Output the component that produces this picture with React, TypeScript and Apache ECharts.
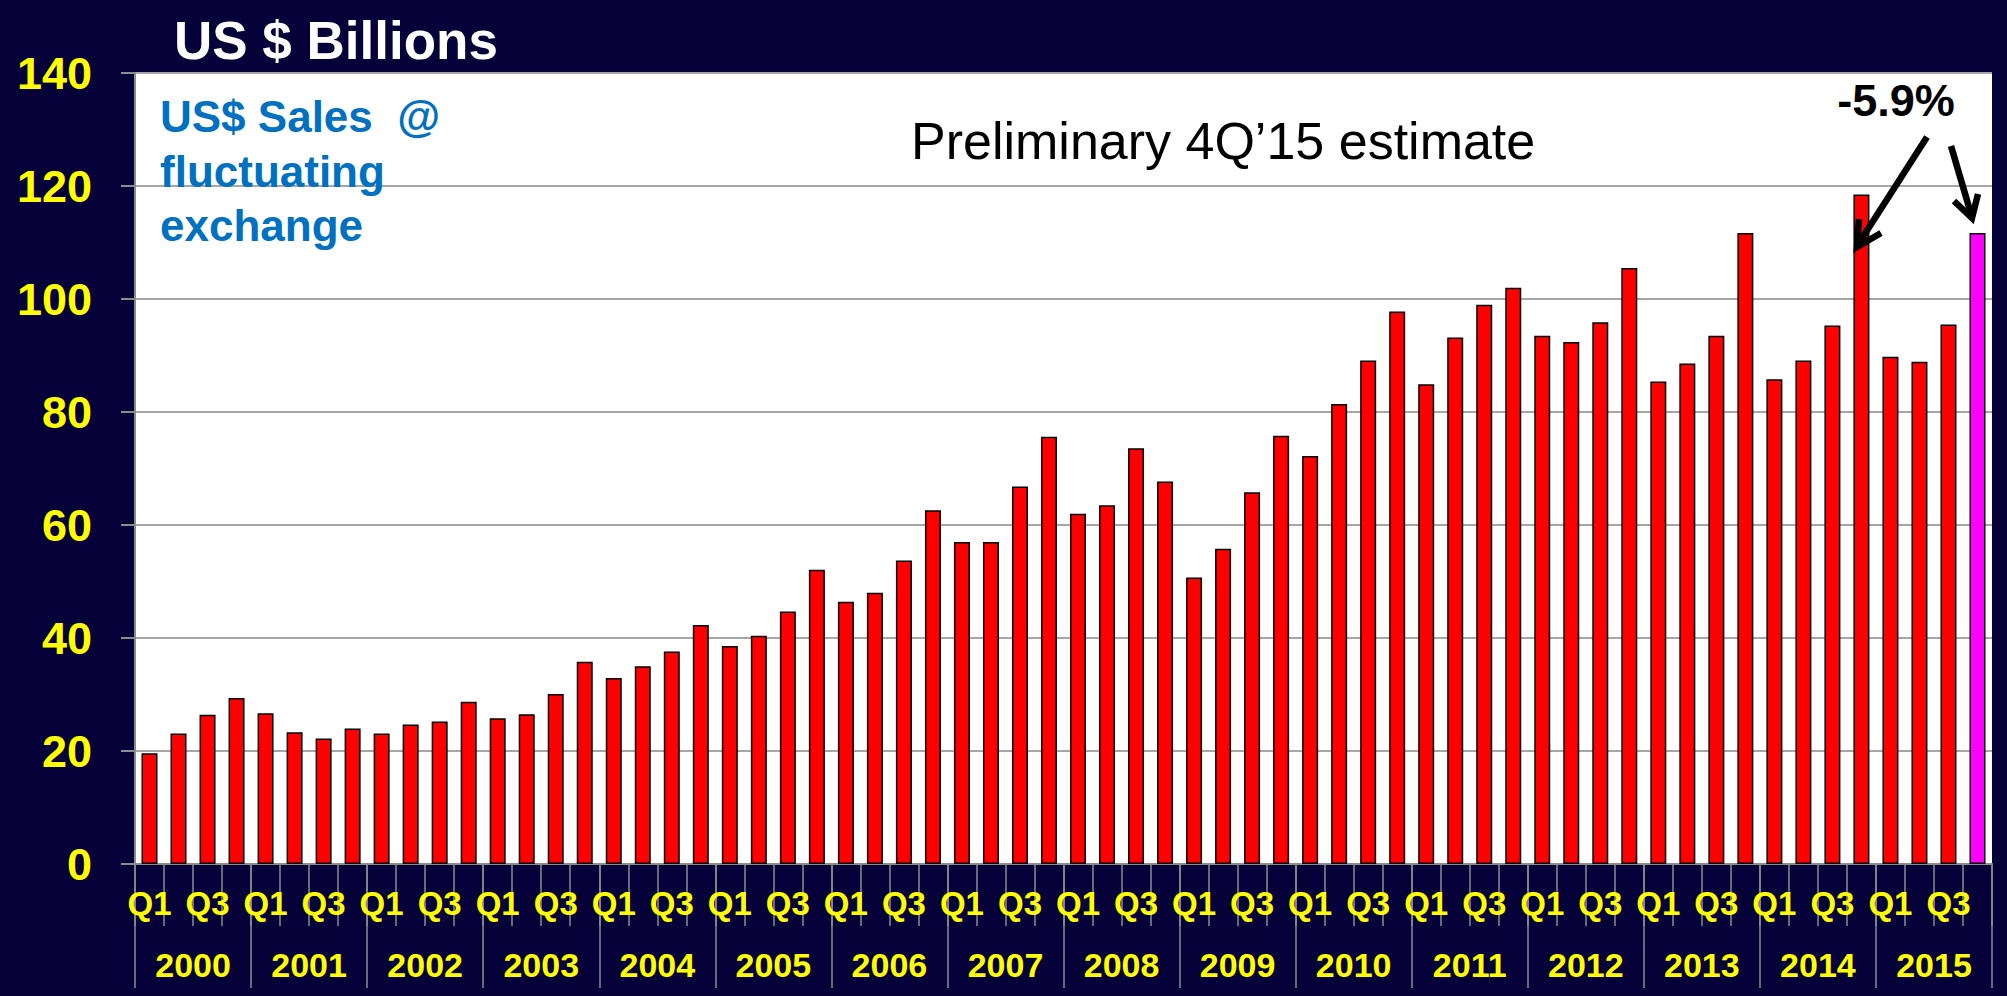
import React, { useEffect, useRef } from "react";
import * as echarts from "echarts";

const years = ["2000","2001","2002","2003","2004","2005","2006","2007","2008","2009","2010","2011","2012","2013","2014","2015"];
const quarters = ["Q1","Q2","Q3","Q4"];
const quarterCategories = years.flatMap((y) => quarters.map((q) => `${q} ${y}`));

const sales2000s = [19.6, 23.1, 26.4, 29.4, 26.7, 23.3, 22.2, 24.0, 23.1, 24.7, 25.2, 28.7, 25.8, 26.5, 30.1, 35.8];
const sales2004s = [32.9, 35.0, 37.6, 42.3, 38.6, 40.4, 44.7, 52.1, 46.4, 48.0, 53.7, 62.6, 57.0, 57.0, 66.8, 75.6];
const sales2008s = [62.0, 63.5, 73.6, 67.7, 50.7, 55.8, 65.8, 75.8, 72.2, 81.4, 89.1, 97.8, 84.9, 93.2, 99.0, 102.0];
const sales2012s = [93.5, 92.4, 95.9, 105.5, 85.4, 88.6, 93.5, 111.7, 85.8, 89.1, 95.3, 118.5, 89.8, 88.9, 95.5, 111.7];
const salesValues = [...sales2000s, ...sales2004s, ...sales2008s, ...sales2012s];
const estimateIndex = salesValues.length - 1;

const FONT = '"Liberation Sans", Arial, Helvetica, sans-serif';
const BG = "#060239";
const YELLOW = "#FFFF00";
const GRAY = "#8C8C8C";

export default function App() {
  const ref = useRef<HTMLDivElement>(null);
  useEffect(() => {
    if (!ref.current) return;
    const chart = echarts.init(ref.current, null, { renderer: "svg" });
    const option: any = {
      animation: false,
      backgroundColor: BG,
      grid: {
        left: 135,
        right: 15,
        top: 73,
        bottom: 132,
        show: true,
        backgroundColor: "#FFFFFF",
        borderWidth: 0,
      },
      xAxis: [
        {
          type: "category",
          data: quarterCategories,
          position: "bottom",
          axisLine: { show: true, lineStyle: { color: GRAY, width: 2 } },
          axisTick: { show: true, interval: 0, length: 62, lineStyle: { color: GRAY, width: 1.5 } },
          axisLabel: {
            interval: (i: number) => i % 2 === 0,
            formatter: (v: string) => v.split(" ")[0],
            color: YELLOW,
            fontFamily: FONT,
            fontWeight: "bold",
            fontSize: 33,
            lineHeight: 36,
            margin: 21,
          },
          splitLine: { show: false },
        },
        {
          type: "category",
          data: years,
          position: "bottom",
          axisLine: { show: false },
          axisTick: { show: true, interval: 0, length: 124, lineStyle: { color: GRAY, width: 1.5 } },
          axisLabel: {
            interval: 0,
            color: YELLOW,
            fontFamily: FONT,
            fontWeight: "bold",
            fontSize: 34,
            lineHeight: 36,
            margin: 83,
          },
          splitLine: { show: false },
        },
      ],
      yAxis: {
        type: "value",
        min: 0,
        max: 140,
        interval: 20,
        axisLine: { show: true, lineStyle: { color: GRAY, width: 2 } },
        axisTick: { show: true, length: 14, lineStyle: { color: GRAY, width: 2 } },
        axisLabel: {
          color: YELLOW,
          fontFamily: FONT,
          fontWeight: "bold",
          fontSize: 45,
          margin: 43,
        },
        splitLine: { show: true, lineStyle: { color: "#A6A6A6", width: 2 } },
      },
      series: [
        {
          type: "bar",
          xAxisIndex: 0,
          barWidth: 16,
          data: salesValues.map((v, i) =>
            i === estimateIndex ? { value: v, itemStyle: { color: "#FF00FF" } } : v
          ),
          itemStyle: {
            color: "#FF0000",
            borderColor: "#000000",
            borderWidth: 1.5,
          },
        },
      ],
      graphic: [
        {
          type: "text",
          left: 174,
          top: 14,
          z: 100,
          style: { text: "US $ Billions", fill: "#FFFFFF", font: `bold 53px ${FONT}` },
        },
        {
          type: "text",
          x: 160,
          y: 116,
          z: 100,
          style: { text: "US$ Sales  @", fill: "#0070C0", font: `bold 44px ${FONT}`, verticalAlign: "middle" },
        },
        {
          type: "text",
          x: 160,
          y: 171,
          z: 100,
          style: { text: "fluctuating", fill: "#0070C0", font: `bold 44px ${FONT}`, verticalAlign: "middle" },
        },
        {
          type: "text",
          x: 160,
          y: 225,
          z: 100,
          style: { text: "exchange", fill: "#0070C0", font: `bold 44px ${FONT}`, verticalAlign: "middle" },
        },
        {
          type: "text",
          x: 911,
          y: 141,
          z: 100,
          style: { text: "Preliminary 4Q\u201915 estimate", fill: "#000000", font: `52px ${FONT}`, verticalAlign: "middle" },
        },
        {
          type: "text",
          x: 1896,
          y: 100,
          z: 100,
          style: { text: "-5.9%", fill: "#000000", font: `bold 45px ${FONT}`, align: "center", verticalAlign: "middle" },
        },
        {
          type: "line",
          z: 100,
          shape: { x1: 1927, y1: 137, x2: 1859, y2: 243 },
          style: { stroke: "#000000", lineWidth: 6.5 },
        },
        {
          type: "polyline",
          z: 100,
          shape: { points: [[1859, 219], [1857, 247], [1881, 233]] },
          style: { stroke: "#000000", lineWidth: 6.5, fill: "none", lineJoin: "miter" },
        },
        {
          type: "line",
          z: 100,
          shape: { x1: 1951, y1: 146, x2: 1971, y2: 214 },
          style: { stroke: "#000000", lineWidth: 6.5 },
        },
        {
          type: "polyline",
          z: 100,
          shape: { points: [[1954, 201], [1972, 218], [1978, 194]] },
          style: { stroke: "#000000", lineWidth: 6.5, fill: "none", lineJoin: "miter" },
        },
      ],
    };
    chart.setOption(option);
    return () => chart.dispose();
  }, []);
  return (
    <div
      ref={ref}
      style={{ position: "fixed", left: 0, top: 0, width: 2007, height: 996 }}
    />
  );
}
